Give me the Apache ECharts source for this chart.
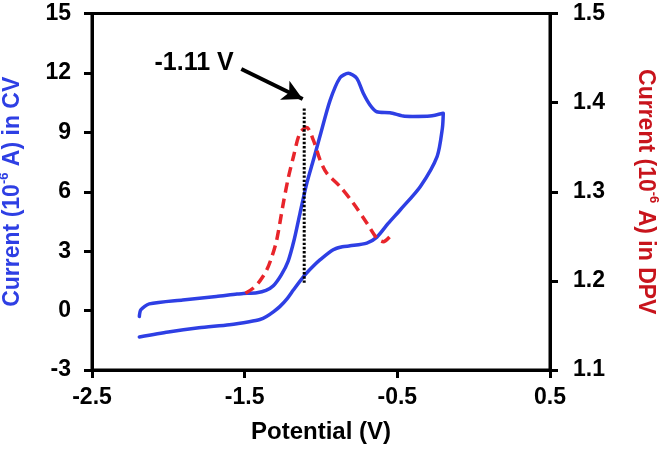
<!DOCTYPE html>
<html>
<head>
<meta charset="utf-8">
<script src="https://cdn.jsdelivr.net/npm/echarts@6/dist/echarts.min.js"></script>
<style>html,body{margin:0;padding:0;background:#fff}#c{width:660px;height:451px}</style>
</head>
<body>
<div id="c"></div>
<script>
// Potential (V) of each point, CV in sweep order
const cvPotential = [-2.19,-2.0,-1.80,-1.60,-1.47,-1.40,-1.357,-1.31,-1.27,-1.22,-1.18,-1.105,-1.05,-1.007,-0.92,-0.86,-0.81,-0.70,-0.634,-0.56,-0.48,-0.349,-0.239,-0.205,-0.199,-0.286,-0.40,-0.461,-0.548,-0.635,-0.679,-0.723,-0.766,-0.821,-0.876,-0.941,-1.007,-1.05,-1.094,-1.138,-1.175,-1.215,-1.26,-1.312,-1.36,-1.42,-1.509,-1.55,-1.686,-1.906,-2.125,-2.18,-2.19];
const cvCurrent   = [-1.33,-1.08,-0.87,-0.71,-0.56,-0.45,-0.30,-0.05,0.20,0.62,1.05,1.80,2.25,2.56,3.07,3.22,3.27,3.41,3.71,4.40,5.09,6.27,7.79,9.20,9.96,9.82,9.80,9.82,9.99,10.04,10.38,10.97,11.73,11.98,11.75,10.6,8.8,7.6,6.4,4.9,3.6,2.5,1.8,1.25,1.02,0.90,0.86,0.84,0.71,0.54,0.34,0.04,-0.30];
// DPV
const dpvPotential = [-1.495,-1.443,-1.40,-1.356,-1.32,-1.29,-1.247,-1.215,-1.181,-1.138,-1.094,-1.05,-1.007,-0.963,-0.876,-0.788,-0.70,-0.635,-0.592,-0.537];
const dpvCurrent   = [1.186,1.192,1.200,1.212,1.228,1.246,1.287,1.315,1.339,1.366,1.372,1.358,1.336,1.321,1.306,1.287,1.265,1.248,1.244,1.252];
// marker at -1.11 V
const markerPotential = [-1.11, -1.11];
const markerCurrent = [1.4, 10.2];
const arrowStart = [-1.522, 12.2];
const arrowEnd = [-1.12, 10.68];
const annotationPos = [-1.831, 12.47];
const annotationText = '-1.11 V';
const xTicks = {min: -2.5, max: 0.5, interval: 1};
const yLeftTicks = {min: -3, max: 15, interval: 3};
const yRightTicks = {min: 1.1, max: 1.5, interval: 0.1};

const zip = (a, b) => a.map((v, i) => [v, b[i]]);
const FONT = 'Liberation Sans';
const BLUE = '#2e3fe4';
const RED = '#e8252b';
const DRED = '#c8141c';
const axisCommon = {
  axisLine: {show: true, onZero: false, lineStyle: {color: '#000', width: 3}},
  axisTick: {show: true, inside: false, length: 8, lineStyle: {color: '#000', width: 3}},
  splitLine: {show: false},
  axisLabel: {color: '#000', fontFamily: FONT, fontWeight: 'bold', fontSize: 23}
};
const richName = (c) => ({
  a: {color: c, fontFamily: FONT, fontWeight: 'bold', fontSize: 23, lineHeight: 26, verticalAlign: 'bottom'},
  s: {color: c, fontFamily: FONT, fontWeight: 'bold', fontSize: 13, lineHeight: 26, verticalAlign: 'top'}
});
const chart = echarts.init(document.getElementById('c'));
chart.setOption({
  animation: false,
  backgroundColor: '#fff',
  grid: {left: 92, right: 110, top: 13.5, bottom: 81, outerBoundsMode: 'none', containLabel: false,
         show: true, borderColor: '#000', borderWidth: 3},
  xAxis: Object.assign({}, axisCommon, {
    type: 'value', min: xTicks.min, max: xTicks.max, interval: xTicks.interval,
    axisLabel: Object.assign({}, axisCommon.axisLabel, {margin: 16}),
    name: 'Potential (V)', nameLocation: 'middle', nameGap: 50,
    nameTextStyle: {color: '#000', fontFamily: FONT, fontWeight: 'bold', fontSize: 24}
  }),
  yAxis: [
    Object.assign({}, axisCommon, {
      type: 'value', position: 'left', min: yLeftTicks.min, max: yLeftTicks.max, interval: yLeftTicks.interval,
      axisLabel: Object.assign({}, axisCommon.axisLabel, {margin: 21}),
      name: '{a|Current (10}{s|-6}{a| A) in CV}', nameLocation: 'middle', nameGap: 68, nameRotate: 90,
      nameTextStyle: {color: BLUE, fontFamily: FONT, fontWeight: 'bold', fontSize: 23, rich: richName(BLUE)}
    }),
    Object.assign({}, axisCommon, {
      type: 'value', position: 'right', min: yRightTicks.min, max: yRightTicks.max, interval: yRightTicks.interval,
      axisLabel: Object.assign({}, axisCommon.axisLabel, {margin: 23, formatter: v => v.toFixed(1)}),
      name: '{a|Current (10}{s|-6}{a| A) in DPV}', nameLocation: 'middle', nameGap: 84, nameRotate: -90,
      nameTextStyle: {color: DRED, fontFamily: FONT, fontWeight: 'bold', fontSize: 23, rich: richName(DRED)}
    })
  ],
  series: [
    {
      type: 'line', name: 'CV', yAxisIndex: 0, data: zip(cvPotential, cvCurrent),
      smooth: 0.25, showSymbol: false, symbol: 'none',
      lineStyle: {color: BLUE, width: 3.5, cap: 'round', join: 'round'}
    },
    {
      type: 'line', name: 'DPV', yAxisIndex: 1, data: zip(dpvPotential, dpvCurrent),
      smooth: 0.3, showSymbol: false, symbol: 'none',
      lineStyle: {color: RED, width: 3.5, type: [10, 6]}
    },
    {
      type: 'line', name: 'marker', yAxisIndex: 0, data: zip(markerPotential, markerCurrent),
      showSymbol: false, symbol: 'none',
      lineStyle: {color: '#000', width: 3, type: [2.4, 1.8]},
      markLine: {
        silent: true, animation: false, symbol: ['none', 'arrow'], symbolSize: [16, 20],
        lineStyle: {color: '#000', width: 4, type: 'solid'},
        label: {show: false},
        data: [[{coord: arrowStart}, {coord: arrowEnd}]]
      },
      markPoint: {
        silent: true, symbol: 'circle', symbolSize: 1, itemStyle: {color: 'rgba(0,0,0,0)'},
        label: {show: true, position: 'inside', color: '#000', fontFamily: FONT, fontWeight: 'bold', fontSize: 25, formatter: annotationText},
        data: [{coord: annotationPos}]
      }
    }
  ]
});
</script>
</body>
</html>
